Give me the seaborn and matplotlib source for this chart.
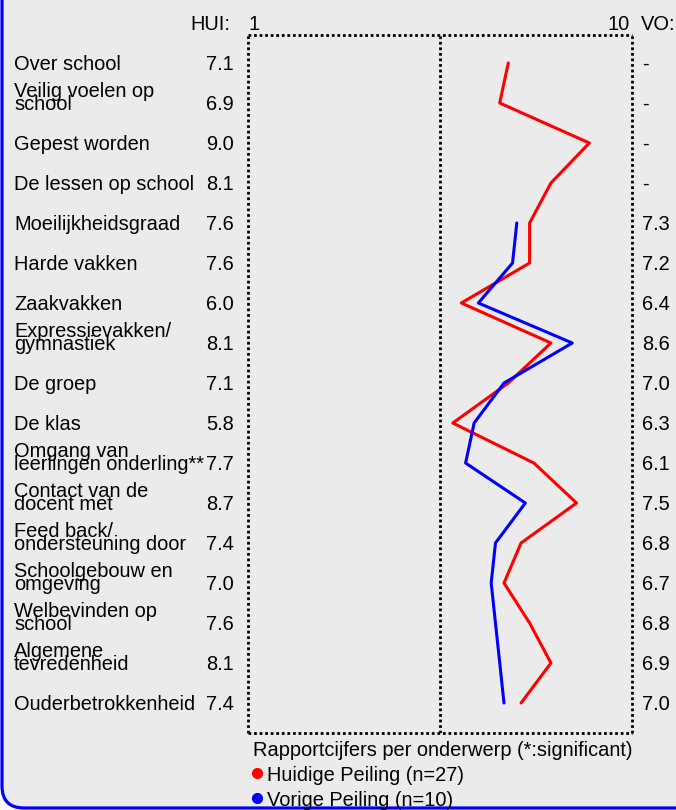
import numpy as np
import pandas as pd
import matplotlib
matplotlib.use("Agg")
import matplotlib.pyplot as plt
import matplotlib.transforms as mtrans
from matplotlib.patches import FancyBboxPatch
import seaborn as sns

# rapportcijfers per onderwerp
topics = [
    "Over school", "Veilig voelen op\nschool", "Gepest worden", "De lessen op school",
    "Moeilijkheidsgraad", "Harde vakken", "Zaakvakken", "Expressievakken/\ngymnastiek",
    "De groep", "De klas", "Omgang van\nleerlingen onderling**", "Contact van de\ndocent met",
    "Feed back/\nondersteuning door", "Schoolgebouw en\nomgeving", "Welbevinden op\nschool",
    "Algemene\ntevredenheid", "Ouderbetrokkenheid",
]
hui = [7.1, 6.9, 9.0, 8.1, 7.6, 7.6, 6.0, 8.1, 7.1, 5.8, 7.7, 8.7, 7.4, 7.0, 7.6, 8.1, 7.4]
vo = [None, None, None, None, 7.3, 7.2, 6.4, 8.6, 7.0, 6.3, 6.1, 7.5, 6.8, 6.7, 6.8, 6.9, 7.0]
legend_labels = ["Huidige Peiling (n=27)", "Vorige Peiling (n=10)"]

sns.set_theme(style="white")
plt.rcParams["font.family"] = ["Liberation Sans", "DejaVu Sans"]
plt.rcParams["text.color"] = "black"
FS = 14.4
RED = "#ff0000"
BLUE = "#0000ff"
BG = "#ebebeb"

W, H = 676, 810
fig = plt.figure(figsize=(W / 100, H / 100), dpi=100, facecolor="white")

# background panel in pixel coordinates
bg = fig.add_axes([0, 0, 1, 1], zorder=0)
bg.set_xlim(0, W)
bg.set_ylim(H, 0)
bg.axis("off")
panel = FancyBboxPatch((2, -40), 740, 848, boxstyle="round,pad=0,rounding_size=22",
                       facecolor=BG, edgecolor=BLUE, linewidth=2.3)
bg.add_patch(panel)

# plot area
ax = fig.add_axes([248 / W, 1 - 733 / H, (632 - 248) / W, (733 - 35) / H], zorder=1)
ax.patch.set_alpha(0)

rows = np.arange(len(topics))
df_hui = pd.DataFrame({"cijfer": hui, "rij": rows})
df_vo = pd.DataFrame({"cijfer": vo, "rij": rows}).dropna()

sns.lineplot(data=df_hui, x="cijfer", y="rij", sort=False, estimator=None,
             color=RED, linewidth=2.2, ax=ax)
sns.lineplot(data=df_vo, x="cijfer", y="rij", sort=False, estimator=None,
             color=BLUE, linewidth=2.2, ax=ax)

ax.set_xlim(1, 10)
ax.set_ylim(16.75, -0.7)
ax.set_xticks([])
ax.set_yticks([])
ax.set_xlabel("")
ax.set_ylabel("")
for sp in ax.spines.values():
    sp.set_visible(True)
    sp.set_color("black")
    sp.set_linewidth(2.0)
    sp.set_linestyle((0, (1, 1)))
    sp.set_capstyle("butt")
ax.axvline(5.5, color="black", linewidth=2.0, linestyle=(0, (1, 1)))

# row texts: x in pixels, y in rows
tr = mtrans.blended_transform_factory(bg.transData, ax.transData)
for i, (lab, h, v) in enumerate(zip(topics, hui, vo)):
    parts = lab.split("\n")
    bg.text(14, i + 0.18, parts[-1], transform=tr, fontsize=FS, ha="left", va="baseline")
    if len(parts) > 1:
        bg.text(14, i - 0.15, parts[0], transform=tr, fontsize=FS, ha="left", va="baseline")
    bg.text(234, i + 0.18, f"{h:.1f}", transform=tr, fontsize=FS, ha="right", va="baseline")
    bg.text(642, i + 0.18, "-" if v is None else f"{v:.1f}", transform=tr,
            fontsize=FS, ha="left", va="baseline")

# header
bg.text(230, 30, "HUI:", fontsize=FS, ha="right", va="baseline")
bg.text(248, 30, "1", fontsize=FS, ha="left", va="baseline")
bg.text(630, 30, "10", fontsize=FS, ha="right", va="baseline")
bg.text(641, 30, "VO:", fontsize=FS, ha="left", va="baseline")

# legend
bg.text(253, 756, "Rapportcijfers per onderwerp (*:significant)", fontsize=FS,
        ha="left", va="baseline")
for k, (lab, col) in enumerate(zip(legend_labels, [RED, BLUE])):
    y = 773 + 25 * k
    bg.plot([257], [y], marker="o", color=col, markersize=7)
    bg.text(267, y + 8, lab, fontsize=FS, ha="left", va="baseline")

fig.savefig("out.png", dpi=100, facecolor="white")
